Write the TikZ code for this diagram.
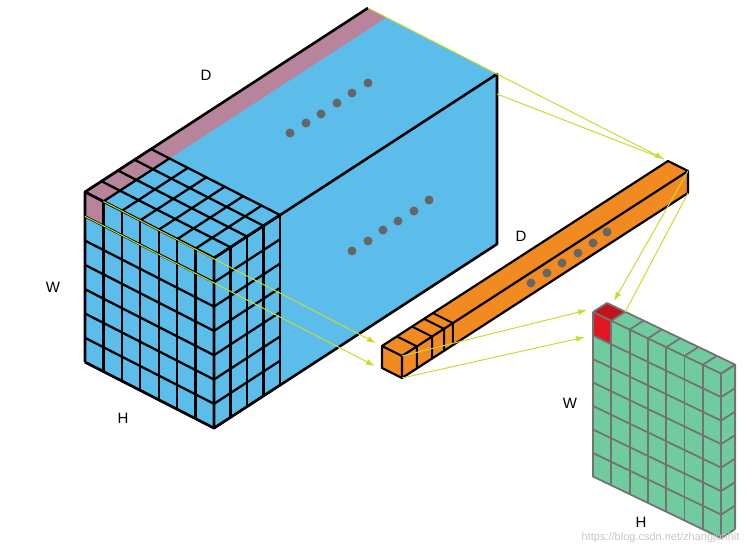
\documentclass[tikz,border=0pt]{standalone}
\usepackage{fontspec}
\setmainfont{Liberation Sans}
\usetikzlibrary{calc,arrows.meta}
\definecolor{sky}{HTML}{5CBDEB}
\definecolor{pinkish}{HTML}{B7849B}
\definecolor{orng}{HTML}{F28A22}
\definecolor{mint}{HTML}{70CC9E}
\definecolor{redc}{HTML}{E21620}
\definecolor{ylw}{HTML}{C8DC30}
\definecolor{dotc}{HTML}{666666}
\tikzset{
  edge/.style={line width=2.6pt,line join=round},
  gridl/.style={line width=2.3pt},
  ggrid/.style={line width=1.8pt,draw={rgb,255:red,115;green,115;blue,115},line join=round},
  yarrow/.style={ylw,line width=1pt,-{Latex[length=9pt,width=6pt]}},
  yline/.style={ylw,line width=1pt},
  dotm/.style={circle,fill=dotc,inner sep=0pt,minimum size=9pt},
  lbl/.style={font=\fontsize{15}{15}\selectfont,inner sep=0pt}
}
\begin{document}
\begin{tikzpicture}[x=1pt,y=-1pt]
\useasboundingbox (0,0) rectangle (749,552);
\coordinate (A) at (85,192);
\coordinate (P) at (214,258);
\coordinate (Q) at (497,74);
\coordinate (R) at (368,8);
\coordinate (Pb) at (214,428.1);
\coordinate (Qb) at (497,244.1);
\coordinate (Ab) at (85,362.1);
\fill[sky] (A)--(R)--(Q)--(Qb)--(Pb)--(Ab)--cycle;
\fill[pinkish] (A)--(103.43,201.43)--(386.43,17.43)--(R)--cycle;
\fill[pinkish] (A)--(103.43,201.43)--(103.43,225.73)--(85,216.3)--cycle;
\foreach \i in {0,...,7}{
  \pgfmathsetmacro\ux{85+18.43*\i}\pgfmathsetmacro\uy{192+9.43*\i}
  \pgfmathsetmacro\vy{192+24.3*\i}
  \draw[gridl] (\ux,\uy)--(\ux,\uy+170.1);
  \draw[gridl] (85,\vy)--(214,\vy+66);
  \draw[gridl] (214,\vy+66)--(280,\vy+23);
  \draw[gridl] (\ux,\uy)--(\ux+66,\uy-43);
}
\foreach \k in {1,...,4}{
  \pgfmathsetmacro\dx{16.5*\k}\pgfmathsetmacro\dy{10.75*\k}
  \draw[gridl] (214+\dx,258-\dy)--(214+\dx,428.1-\dy);
  \draw[gridl] (85+\dx,192-\dy)--(214+\dx,258-\dy);
}
\draw[edge] (Ab)--(A)--(R);
\draw[edge] (A)--(P);
\draw[edge] (P)--(Q)--(Qb)--(Pb)--cycle;
\draw[edge] (Pb)--(Ab);
\draw[yline] (R)--(Q);
\foreach \p [count=\n] in {(290,133),(306,123),(321,114),(337,103),(352,93),(368,83),(352,251),(368,241),(383,230),(398,221),(414,211),(429,200)}
  \node[dotm] (bd\n) at \p {};
% orange bar
\coordinate (F1) at (382,346);
\coordinate (F2) at (402,356);
\coordinate (F3) at (402,378);
\coordinate (F4) at (382,368);
\coordinate (F1b) at (668,161);
\coordinate (F2b) at (688,171);
\coordinate (F3b) at (688,193);
\fill[orng] (F1)--(F1b)--(F2b)--(F3b)--(F3)--(F4)--cycle;
\foreach \t in {0.052,0.105,0.147,0.178}{
  \pgfmathsetmacro\bx{286*\t}\pgfmathsetmacro\by{185*\t}
  \draw[line width=2pt] (382+\bx,346-\by)--(402+\bx,356-\by)--(402+\bx,378-\by);
}
\draw[edge,line width=2.2pt] (F1)--(F2)--(F3)--(F4)--cycle;
\draw[edge,line width=2.2pt] (F1)--(F1b)--(F2b)--(F3b)--(F3);
\draw[edge,line width=2.2pt] (F2)--(F2b);
\foreach \p [count=\n] in {(531,283),(547,273),(562,263),(578,253),(593,243),(607,232)}
  \node[dotm] (od\n) at \p {};
% green block
\coordinate (G) at (593,312);
\coordinate (Gu) at (611.3,320.8);
\coordinate (Gd) at (607,303);
\fill[mint] (G)--(Gd)--(735.1,364.6)--(735.1,529.1)--(721.1,538.1)--(593,476.5)--cycle;
\fill[redc] (G)--(Gu)--(611.3,344.3)--(593,335.5)--cycle;
\fill[redc!85!black] (G)--(Gd)--(625.3,311.8)--(Gu)--cycle;
\foreach \i in {0,...,7}{
  \pgfmathsetmacro\gx{593+18.3*\i}\pgfmathsetmacro\gy{312+8.8*\i}
  \pgfmathsetmacro\hy{312+23.5*\i}
  \draw[ggrid] (\gx,\gy)--(\gx,\gy+164.5);
  \draw[ggrid] (593,\hy)--(721.1,\hy+61.6);
  \draw[ggrid] (\gx,\gy)--(\gx+14,\gy-9);
  \draw[ggrid] (721.1,\hy+61.6)--(735.1,\hy+52.6);
}
\draw[ggrid] (Gd)--(735.1,364.6)--(735.1,529.1);
% yellow connectors
\coordinate (c1) at (103.43,201.43);
\coordinate (c2) at (85,216.3);
\coordinate (Q2) at (497,94);
\coordinate (t1) at (376,343);
\coordinate (t2) at (375,366);
\coordinate (t3) at (664,159);
\coordinate (t4) at (614,301);
\coordinate (t5) at (625.3,311.8);
\coordinate (t6) at (587,310);
\coordinate (t7) at (585,337);
\draw[yarrow] (c1)--(t1);
\draw[yarrow] (c2)--(t2);
\draw[yarrow] (Q)--(t3);
\draw[yline] (Q2)--(t3);
\draw[yarrow] (F2b)--(t4);
\draw[yline] (F3b)--(t5);
\draw[yarrow] (F2)--(t6);
\draw[yarrow] (F3)--(t7);
\node[lbl] (lD) at (206,75) {D};
\node[lbl] (lW) at (53,287) {W};
\node[lbl] (lH) at (123,418) {H};
\node[lbl] (lD2) at (521,236) {D};
\node[lbl] (lW2) at (570,403) {W};
\node[lbl] (lH2) at (641,522) {H};
\node[font=\fontsize{11}{11}\selectfont,text=gray!45,anchor=east] (wm) at (743,538) {https://blog.csdn.net/zhangjunhit};
\end{tikzpicture}
\end{document}
